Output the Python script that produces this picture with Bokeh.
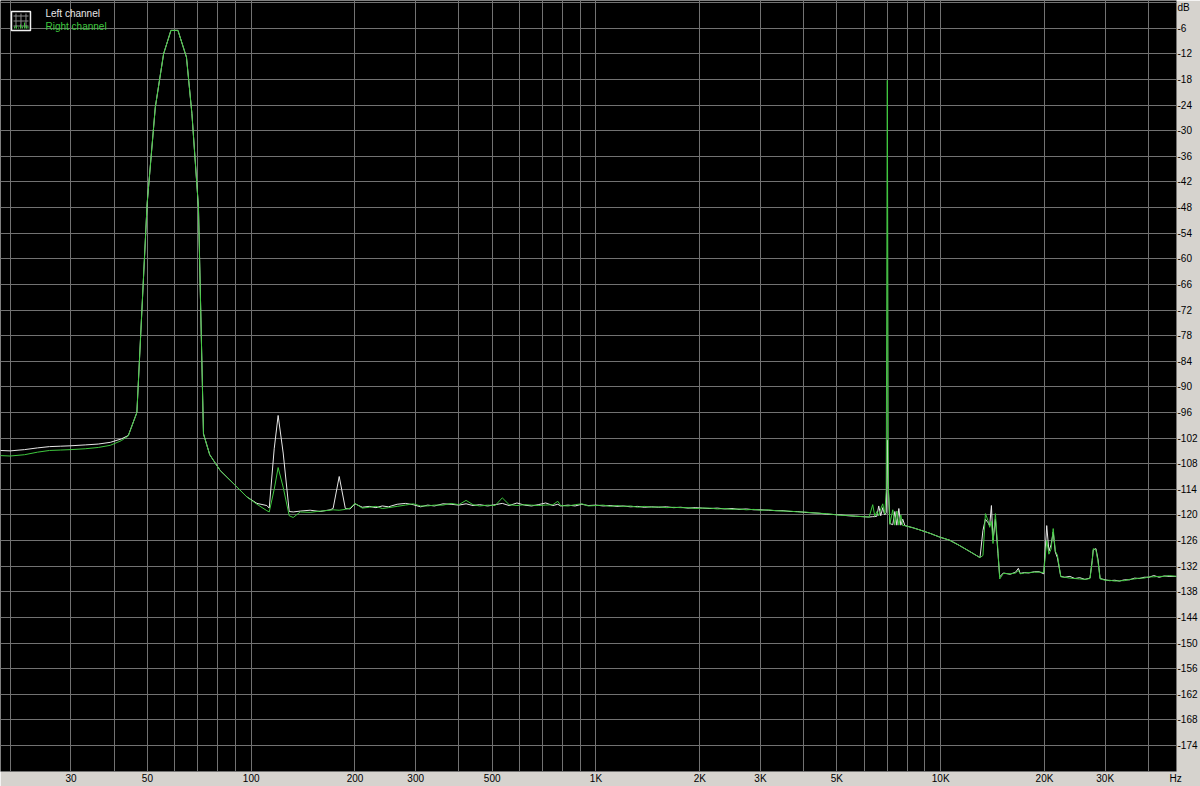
from bokeh.plotting import figure
from bokeh.models import ColumnDataSource, FixedTicker, Range1d, Label
from bokeh.embed import file_html
from bokeh.resources import INLINE

# ---------------- data ----------------
# segment 1: low end and 60 Hz tone
seg1_hz = [18.7, 20, 22, 24, 26, 28, 30, 33, 36, 39, 42, 44, 46.6, 49.9, 52.7, 55.7,
           58.5, 61.3, 64.9, 67.3, 70.3, 72.7, 75.8, 81.3, 88.7, 97.2, 103.9]
seg1_left = [-104.9, -105.0, -104.7, -104.3, -104.0, -103.9, -103.8, -103.6, -103.4, -103.0,
             -102.2, -101.4, -96.0, -47.1, -24.5, -12.0, -6.5, -6.5, -12.8, -26.0, -47.9,
             -101.0, -105.9, -109.6, -112.6, -115.8, -117.3]
seg1_right = [-106.1, -106.2, -105.9, -105.3, -104.9, -104.8, -104.7, -104.5, -104.2, -103.7,
              -102.6, -101.5, -96.0, -47.1, -24.5, -12.0, -6.5, -6.5, -12.8, -26.0, -47.9,
              -101.0, -105.9, -109.6, -112.6, -115.8, -117.5]

# segment 2: hum harmonics (120 / 180 Hz)
seg2_hz = [111, 112.8, 116.6, 119.7, 123.8, 128.9, 132.4, 138.7, 148.2, 158.5, 169.4,
           172.8, 180, 187.5, 193.6]
seg2_left = [-117.8, -118.4, -104.5, -96.7, -105.5, -119.2, -119.3, -119.1, -118.9, -119.2,
             -118.8, -118.5, -111.0, -118.5, -118.6]
seg2_right = [-119.0, -119.3, -114.0, -108.9, -113.5, -120.2, -120.6, -119.3, -119.4, -119.1,
              -118.9, -118.8, -118.9, -118.7, -118.4]

# segment 3: flat noise floor 200 Hz - 6.2 kHz
seg3_hz = [200, 210, 220, 230, 240, 250, 265, 280, 295, 310, 325, 340, 360, 380, 400, 420,
           440, 460, 485, 510, 535, 560, 590, 620, 650, 680, 715, 750, 775, 790, 830, 870,
           910, 950, 1000, 1050, 1100, 1150, 1200, 1260, 1320, 1380, 1450, 1520, 1600, 1680,
           1760, 1850, 1940, 2040, 2140, 2250, 2360, 2480, 2600, 2730, 2870, 3010, 3160,
           3320, 3490, 3660, 3840, 4030, 4230, 4440, 4660, 4890, 5130, 5390, 5660, 5940, 6200]
seg3_left = [-117.4, -118.2, -118.0, -118.3, -117.9, -118.1, -117.5, -117.3, -117.6, -118.1,
             -117.7, -117.9, -117.4, -117.5, -117.7, -117.4, -117.8, -117.6, -117.9, -117.6,
             -117.3, -117.8, -117.2, -117.7, -117.9, -117.6, -117.2, -117.8, -117.5, -117.9,
             -117.7, -117.9, -117.5, -117.8, -117.7, -117.9, -117.8, -118.0, -117.9, -118.1,
             -118.0, -118.2, -118.1, -118.2, -118.1, -118.3, -118.2, -118.4, -118.3, -118.4,
             -118.5, -118.4, -118.6, -118.5, -118.7, -118.6, -118.8, -118.8, -118.9, -119.0,
             -119.0, -119.2, -119.2, -119.4, -119.5, -119.6, -119.8, -119.9, -120.0, -120.2,
             -120.3, -120.4, -120.5]
seg3_right = [-117.3, -118.4, -118.2, -118.0, -118.5, -118.3, -118.0, -117.7, -117.4, -117.9,
              -117.9, -117.7, -117.7, -117.3, -117.6, -116.6, -117.6, -117.9, -117.7, -117.8,
              -116.0, -117.6, -117.8, -117.6, -117.7, -117.8, -117.7, -117.6, -116.8, -117.8,
              -117.9, -117.6, -117.4, -117.9, -117.8, -117.7, -118.0, -117.8, -118.0, -117.9,
              -118.2, -118.0, -118.2, -118.1, -118.3, -118.2, -118.3, -118.3, -118.5, -118.4,
              -118.4, -118.6, -118.5, -118.7, -118.6, -118.8, -118.7, -118.9, -118.8, -119.0,
              -119.1, -119.1, -119.3, -119.3, -119.5, -119.6, -119.7, -119.9, -120.1, -120.1,
              -120.3, -120.4, -120.5]

# segment 4: 7 kHz tone and roll-off
seg4_hz = [6350, 6440, 6530, 6610, 6700, 6790, 6880, 6950, 7000, 7050, 7120, 7260, 7360,
           7460, 7560, 7660, 7760, 7870, 8300, 8690, 9300, 9940, 10600, 11300, 12100, 13000]
seg4_left = [-120.4, -120.4, -120.3, -117.9, -120.2, -118.3, -120.0, -119.5, -102.5, -114.0,
             -122.0, -122.3, -119.2, -122.4, -118.5, -122.4, -121.0, -122.5, -123.0, -123.5,
             -124.3, -125.2, -125.9, -127.1, -128.5, -130.0]
seg4_right = [-117.6, -120.3, -119.2, -120.2, -118.6, -117.4, -119.8, -114.3, -18.2, -113.5,
              -122.2, -118.8, -122.4, -119.1, -122.4, -120.0, -122.5, -122.5, -123.0, -123.5,
              -124.3, -125.2, -125.9, -127.1, -128.5, -130.0]

# segment 5: intermodulation clusters and top end
seg5_hz = [13260, 13480, 13710, 13870, 14030, 14180, 14410, 14660, 14830, 15200, 15900,
           16500, 16800, 17000, 17500, 18000, 18700, 19300, 19900, 20300, 20600, 20900,
           21200, 21500, 21800, 22300, 22900, 23700, 24500, 25300, 26200, 27100, 27500,
           27700, 28200, 28600, 29000, 30000, 30900, 32000, 33000, 34100, 35300, 36500,
           37700, 38900, 40200, 41500, 43000, 44500, 46000, 48300]
seg5_left = [-123.6, -121.0, -121.8, -122.5, -117.8, -126.0, -121.0, -129.1, -134.5,
             -133.6, -133.9, -133.4, -132.5, -133.7, -133.5, -133.6, -133.3, -133.3, -133.8,
             -122.5, -128.5, -127.0, -124.0, -128.7, -130.0, -134.4, -134.6, -134.4, -134.9,
             -134.7, -135.1, -134.8, -130.7, -128.2, -127.9, -130.5, -134.9, -135.2, -135.4,
             -135.3, -135.5, -135.2, -135.2, -134.8, -134.9, -134.6, -134.6, -134.2, -134.6,
             -134.3, -134.4, -134.4]
seg5_right = [-129.5, -119.7, -121.3, -122.9, -121.5, -126.7, -119.7, -128.5, -135.0,
              -133.7, -133.8, -133.6, -133.0, -133.8, -133.6, -133.5, -133.4, -133.4, -133.5,
              -126.0, -129.2, -128.0, -123.2, -128.5, -129.4, -134.5, -134.6, -134.8, -134.9,
              -135.0, -135.1, -134.9, -131.0, -127.9, -128.2, -131.0, -135.0, -135.3, -135.3,
              -135.5, -135.4, -135.4, -135.1, -135.0, -134.8, -134.8, -134.5, -134.5, -134.4,
              -134.4, -134.2, -134.4]

# axis ticks / labels (last entries are the unit captions)
x_label_hz = [30, 50, 100, 200, 300, 500, 1000, 2000, 3000, 5000, 10000, 20000, 30000, 48000]
x_label_text = ["30", "50", "100", "200", "300", "500", "1K", "2K", "3K", "5K", "10K", "20K",
                "30K", "Hz"]
x_grid_hz = [20, 30, 40, 50, 60, 70, 80, 90, 100, 200, 300, 400, 500, 600, 700, 800, 900,
             1000, 2000, 3000, 4000, 5000, 6000, 7000, 8000, 9000, 10000, 20000, 30000, 40000]
y_grid_db = [0, -6, -12, -18, -24, -30, -36, -42, -48, -54, -60, -66, -72, -78, -84, -90, -96,
             -102, -108, -114, -120, -126, -132, -138, -144, -150, -156, -162, -168, -174, -180]
y_label_db = [-1.2] + y_grid_db[1:-1]
y_label_text = ["dB"] + [str(v) for v in y_grid_db[1:-1]]

series_names = ["Left channel", "Right channel"]

# -----------------------------------------------------------------------
freq_hz = seg1_hz + seg2_hz + seg3_hz + seg4_hz + seg5_hz
left_db = seg1_left + seg2_left + seg3_left + seg4_left + seg5_left
right_db = seg1_right + seg2_right + seg3_right + seg4_right + seg5_right
assert len(freq_hz) == len(left_db) == len(right_db)

LEFT_COLOR = "#e8e8e8"
RIGHT_COLOR = "#3fc83f"
GRID_COLOR = "#727272"
STRIP_COLOR = "#d6d3ce"
FONT = "Liberation Sans"

X0, X1 = 18.74, 48300.0
Y0, Y1 = -180.1, 0.5

p = figure(width=1200, height=786, x_axis_type="log",
           x_range=Range1d(X0, X1), y_range=Range1d(Y0, Y1),
           y_axis_location="right", output_backend="svg", toolbar_location=None)
p.min_border = 0
p.min_border_right = 23
p.min_border_bottom = 15
p.background_fill_color = "black"
p.border_fill_color = STRIP_COLOR
p.outline_line_color = None

xa = p.xaxis[0]
xa.ticker = FixedTicker(ticks=x_label_hz)
xa.major_label_overrides = dict(zip(x_label_hz, x_label_text))
ya = p.yaxis[0]
ya.ticker = FixedTicker(ticks=y_label_db)
ya.major_label_overrides = dict(zip(y_label_db, y_label_text))
for ax in (xa, ya):
    ax.axis_line_color = None
    ax.major_tick_line_color = None
    ax.minor_tick_line_color = None
    ax.major_tick_in = 0
    ax.major_tick_out = 0
    ax.major_label_standoff = 1
    ax.major_label_text_font = FONT
    ax.major_label_text_font_size = "10px"
    ax.major_label_text_color = "#000000"

p.xgrid.ticker = FixedTicker(ticks=x_grid_hz)
p.ygrid.ticker = FixedTicker(ticks=y_grid_db)
for g in (p.xgrid, p.ygrid):
    g.grid_line_color = GRID_COLOR
    g.grid_line_width = 1

src = ColumnDataSource(dict(f=freq_hz, left=left_db, right=right_db))
p.line("f", "left", source=src, line_color=LEFT_COLOR, line_width=1)
p.line("f", "right", source=src, line_color=RIGHT_COLOR, line_width=1)

# ---- legend: small chart icon + coloured texts (positions in frame pixels) ----
FRAME_W, FRAME_H = 1177.0, 771.0


def hz_at(px):
    return X0 * (X1 / X0) ** (px / FRAME_W)


def db_at(py):
    return Y1 - (Y1 - Y0) * py / FRAME_H


p.quad(left=[hz_at(11)], right=[hz_at(30)], top=[db_at(11)], bottom=[db_at(30)],
       fill_color="black", line_color="#f0f0f0", line_width=1.5)
icon_grid_x = [hz_at(v) for v in (15.5, 20.5, 25.5)]
p.segment(x0=icon_grid_x, x1=icon_grid_x, y0=[db_at(13)] * 3, y1=[db_at(28)] * 3,
          line_color="#8a8a8a", line_width=1)
icon_grid_y = [db_at(v) for v in (15.5, 20.5, 25.5)]
p.segment(x0=[hz_at(13)] * 3, x1=[hz_at(28)] * 3, y0=icon_grid_y, y1=icon_grid_y,
          line_color="#8a8a8a", line_width=1)
icon_bar_x = [hz_at(v) for v in (14, 16, 18, 20, 22, 24, 26, 27.5)]
icon_bar_top = [db_at(v) for v in (26, 25, 27, 24, 26, 22, 25, 26)]
p.segment(x0=icon_bar_x, x1=icon_bar_x, y0=[db_at(28)] * 8, y1=icon_bar_top,
          line_color=RIGHT_COLOR, line_width=1)

p.add_layout(Label(x=hz_at(45), y=db_at(13), text=series_names[0], text_color=LEFT_COLOR,
                   text_font=FONT, text_font_size="10px", text_baseline="middle"))
p.add_layout(Label(x=hz_at(45), y=db_at(26), text=series_names[1], text_color=RIGHT_COLOR,
                   text_font=FONT, text_font_size="10px", text_baseline="middle"))

open("out.html", "w").write(file_html(p, INLINE))
